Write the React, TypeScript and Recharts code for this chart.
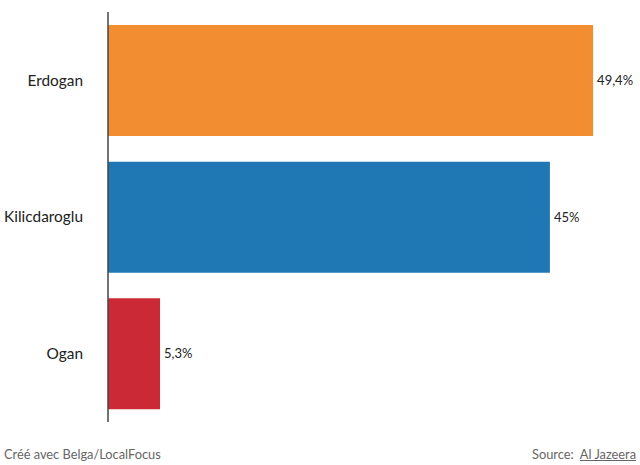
import React from 'react';
import { BarChart, Bar, XAxis, YAxis, Cell, LabelList } from 'recharts';

const candidates = ['Erdogan', 'Kilicdaroglu', 'Ogan'];
const shares = [49.4, 45, 5.3];
const colors = ['#f28d31', '#1f78b4', '#cc2936'];

const data = candidates.map((name, i) => ({ name, value: shares[i] }));

const fmt = (v: any) => `${String(v).replace('.', ',')}%`;

export default function App() {
  return (
    <div
      style={{
        position: 'absolute',
        left: 0,
        top: 0,
        width: 640,
        height: 465,
        background: '#fff',
        fontFamily: 'Lato, "Open Sans", sans-serif',
      }}
    >
      <BarChart
        width={640}
        height={430}
        data={data}
        layout="vertical"
        margin={{ top: 12, right: 41, bottom: 8, left: 0 }}
      >
        <XAxis type="number" domain={[0, 50]} hide />
        <YAxis
          type="category"
          dataKey="name"
          width={108}
          tickLine={false}
          tickSize={0}
          tickMargin={25}
          axisLine={{ stroke: '#444', strokeWidth: 1.5 }}
          tick={{ fill: '#222', fontSize: 15.4, fontFamily: 'Lato' }}
        />
        <Bar dataKey="value" barSize={111} isAnimationActive={false}>
          {data.map((d, i) => (
            <Cell key={d.name} fill={colors[i]} />
          ))}
          <LabelList
            dataKey="value"
            position="right"
            offset={4}
            formatter={fmt}
            style={{ fill: '#222', fontSize: 13, fontFamily: 'Lato' }}
          />
        </Bar>
      </BarChart>
      <div
        style={{
          position: 'absolute',
          left: 4,
          top: 446,
          fontSize: 12.8,
          color: '#666',
        }}
      >
        Créé avec Belga/LocalFocus
      </div>
      <div
        style={{
          position: 'absolute',
          right: 4,
          top: 446,
          fontSize: 12.8,
          color: '#666',
        }}
      >
        Source:&nbsp; <span style={{ textDecoration: 'underline' }}>Al Jazeera</span>
      </div>
    </div>
  );
}
